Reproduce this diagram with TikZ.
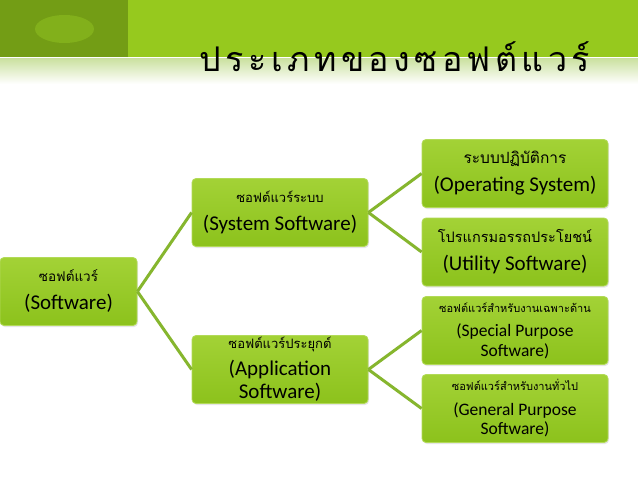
\documentclass[tikz,border=0pt]{standalone}
\usepackage{fontspec}
\setmainfont{Carlito}
\newfontfamily\thaifont[Script=Thai]{Loma}
\usetikzlibrary{shadows}
\definecolor{hdrdark}{HTML}{739D15}
\definecolor{hdrlight}{HTML}{96C91E}
\definecolor{hdroval}{HTML}{82B01B}
\definecolor{boxtop}{HTML}{A3D236}
\definecolor{boxbot}{HTML}{8CC21C}
\definecolor{boxedge}{HTML}{B2DA58}
\definecolor{linkcol}{HTML}{86B62E}
\definecolor{fadegreen}{HTML}{CBE1A0}
\newcommand{\thl}[2]{{\thaifont\fontsize{#1}{#1}\selectfont #2}}
\begin{document}
\begin{tikzpicture}[x=1pt,y=-1pt,
  box/.style={draw=boxedge, line width=0.8pt, rounded corners=4pt,
    top color=boxtop, bottom color=boxbot, align=center, inner sep=0pt,
    minimum height=68pt,
    drop shadow={opacity=0.2, shadow xshift=1pt, shadow yshift=-1.5pt},
    font=\fontsize{21}{23}\selectfont},
  smallbox/.style={box, font=\fontsize{17.5}{19.5}\selectfont},
  link/.style={draw=linkcol, line width=3pt}
]
\useasboundingbox (0,0) rectangle (638,479);
\fill[white] (0,0) rectangle (638,479);
% header
\fill[hdrdark] (0,0) rectangle (128,57);
\fill[hdrlight] (128,0) rectangle (638,57);
\fill[hdroval] (64.5,29) ellipse [x radius=29.5pt, y radius=14pt];
\fill[white] (0,57) rectangle (638,58.5);
\shade[top color=fadegreen, bottom color=white] (0,58.5) rectangle (638,84);
\node[anchor=base, inner sep=0pt] (title) at (395,71)
  {\thaifont\fontsize{34}{34}\selectfont\addfontfeature{LetterSpace=13}ประเภทของซอฟต์แวร์};
% boxes
\node[box, minimum width=137pt] (sw) at (68.5,291.5)
  {\thl{13.5}{ซอฟต์แวร์}\\[5pt](Software)};
\node[box, minimum width=176pt] (sys) at (280,212.5)
  {\thl{13}{ซอฟต์แวร์ระบบ}\\[5pt](System Software)};
\node[box, minimum width=176pt] (app) at (280,369.5)
  {\thl{13}{ซอฟต์แวร์ประยุกต์}\\[4pt](Application\\Software)};
\node[box, minimum width=186pt] (os) at (515,173.5)
  {\thl{15.5}{ระบบปฏิบัติการ}\\[5pt](Operating System)};
\node[box, minimum width=186pt] (util) at (515,252)
  {\thl{14.5}{โปรแกรมอรรถประโยชน์}\\[5pt](Utility Software)};
\node[smallbox, minimum width=186pt] (spec) at (515,330.5)
  {\thl{11}{ซอฟต์แวร์สำหรับงานเฉพาะด้าน}\\[5pt](Special Purpose\\Software)};
\node[smallbox, minimum width=186pt] (gen) at (515,408.5)
  {\thl{11}{ซอฟต์แวร์สำหรับงานทั่วไป}\\[5pt](General Purpose\\Software)};
% connectors
\draw[link] (sw.east) -- (sys.west);
\draw[link] (sw.east) -- (app.west);
\draw[link] (sys.east) -- (os.west);
\draw[link] (sys.east) -- (util.west);
\draw[link] (app.east) -- (spec.west);
\draw[link] (app.east) -- (gen.west);
\end{tikzpicture}
\end{document}
